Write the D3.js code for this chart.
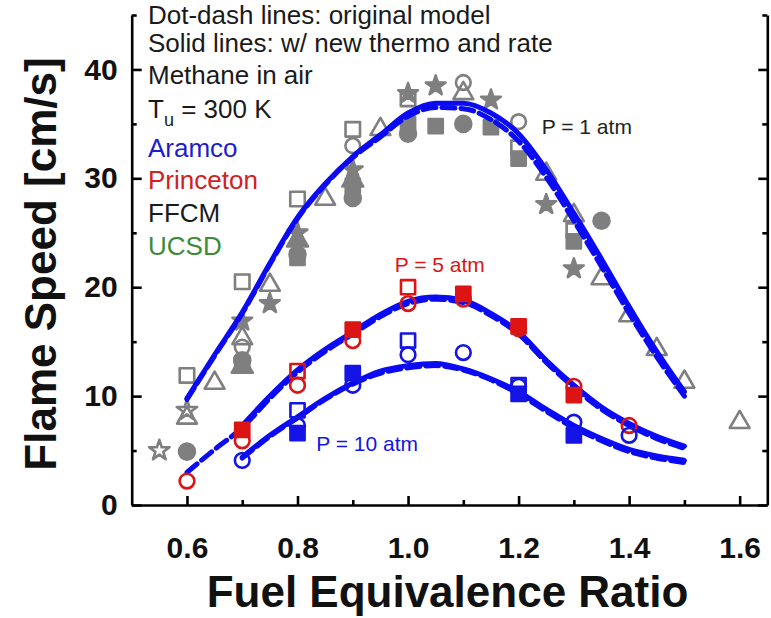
<!DOCTYPE html>
<html>
<head>
<meta charset="utf-8">
<script src="https://cdn.jsdelivr.net/npm/d3@7/dist/d3.min.js"></script>
<style>
    body { margin: 0; background: #fff; }
    svg { display: block; font-family: 'Liberation Sans', Arial, sans-serif; }
</style>
</head>
<body>
<div class="chart-container"></div>
<script>
// axis ticks
const xMajorTicks = [0.6, 0.8, 1.0, 1.2, 1.4, 1.6];
const xMinorTicks = [0.7, 0.9, 1.1, 1.3, 1.5];
const yMajorTicks = [0, 10, 20, 30, 40];
const yMinorTicks = [5, 15, 25, 35, 45];

// model curves (phi grid + flame speed, cm/s)
const phiP1 = [0.6, 0.65, 0.7, 0.75, 0.8, 0.85, 0.9, 0.95, 1.0, 1.05, 1.1, 1.15, 1.2, 1.25, 1.3, 1.35, 1.4, 1.45, 1.5];
const p1Solid = [9.8, 13.8, 17.7, 22.2, 26.4, 29.5, 32.0, 34.0, 36.0, 36.9, 36.9, 36.0, 34.1, 30.8, 26.8, 22.6, 18.2, 14.1, 10.4];
const p1Dash  = [9.7, 13.7, 17.6, 22.1, 26.3, 29.4, 31.9, 33.8, 35.7, 36.5, 36.4, 35.4, 33.4, 30.1, 26.1, 21.9, 17.6, 13.6, 10.0];

const phiP5 = [0.7, 0.75, 0.8, 0.85, 0.9, 0.95, 1.0, 1.05, 1.1, 1.15, 1.2, 1.25, 1.3, 1.35, 1.4, 1.45, 1.5];
const p5Solid = [7.3, 10.0, 12.4, 14.3, 15.9, 17.5, 18.7, 19.1, 18.8, 17.6, 15.9, 13.3, 11.0, 9.0, 7.5, 6.3, 5.4];
const phiP5Dash = [0.6, 0.65, 0.7, 0.75, 0.8, 0.85, 0.9, 0.95, 1.0, 1.05, 1.1, 1.15, 1.2, 1.25, 1.3, 1.35, 1.4, 1.45, 1.5];
const p5Dash  = [3.0, 5.1, 7.1, 9.8, 12.2, 14.1, 15.7, 17.3, 18.5, 18.9, 18.6, 17.4, 15.7, 13.1, 10.8, 8.8, 7.3, 6.1, 5.2];

const phiP10 = [0.7, 0.75, 0.8, 0.85, 0.9, 0.95, 1.0, 1.05, 1.1, 1.15, 1.2, 1.25, 1.3, 1.35, 1.4, 1.45, 1.5];
const p10Solid = [4.4, 6.4, 8.1, 9.8, 11.2, 12.3, 12.8, 13.0, 12.5, 11.6, 10.4, 8.8, 7.3, 6.1, 5.1, 4.5, 4.1];
const p10Dash  = [4.3, 6.3, 8.0, 9.7, 11.1, 12.1, 12.6, 12.8, 12.4, 11.5, 10.2, 8.6, 7.1, 5.9, 4.9, 4.3, 3.9];

// experimental data [phi, S_L]
const p1OpenSquare = [[0.6, 11.9], [0.7, 20.5], [0.8, 28.1], [0.9, 34.5], [1.0, 37.3], [1.2, 32.8], [1.3, 25.2]];
const p1OpenCircle = [[0.7, 14.5], [0.9, 33.0], [1.1, 38.8], [1.2, 35.2]];
const p1OpenTriangle = [[0.6, 8.0], [0.65, 11.2], [0.7, 15.3], [0.75, 20.2], [0.85, 28.1], [0.95, 34.5], [1.1, 37.8],
    [1.25, 30.4], [1.3, 26.6], [1.35, 20.8], [1.4, 17.4], [1.45, 14.3], [1.5, 11.3], [1.6, 7.6]];
const p1FilledStar = [[0.7, 16.9], [0.75, 18.5], [0.8, 25.0], [0.9, 30.8], [1.0, 37.8], [1.05, 38.5], [1.15, 37.2], [1.25, 27.6], [1.3, 21.7]];
const p1OpenStar = [[0.55, 5.0], [0.6, 8.7]];
const p1FilledCircle = [[0.6, 4.9], [0.7, 13.3], [0.8, 23.0], [0.9, 28.2], [1.0, 34.1], [1.1, 35.0], [1.35, 26.1]];
const p1FilledSquare = [[0.7, 13.0], [0.8, 22.7], [0.9, 29.3], [1.0, 35.0], [1.05, 34.8], [1.15, 34.7], [1.2, 31.8], [1.3, 24.2]];
const p1FilledTriangle = [[0.7, 12.7], [0.8, 24.3], [0.9, 29.8]];

const p5OpenSquare = [[0.8, 12.3], [1.0, 20.0]];
const p5OpenCircle = [[0.6, 2.2], [0.7, 5.9], [0.8, 11.0], [0.9, 15.1], [1.0, 18.5], [1.1, 18.9], [1.2, 16.2], [1.3, 10.9], [1.4, 7.3]];
const p5FilledSquare = [[0.7, 6.9], [0.9, 16.1], [1.1, 19.4], [1.2, 16.4], [1.3, 10.1]];

const p10OpenSquare = [[0.8, 8.7], [1.0, 15.1], [1.2, 11.0]];
const p10OpenCircle = [[0.7, 4.1], [0.8, 7.3], [0.9, 11.0], [1.0, 13.8], [1.1, 14.0], [1.2, 10.9], [1.3, 7.6], [1.4, 6.4]];
const p10FilledSquare = [[0.8, 6.6], [0.9, 12.1], [1.2, 10.2], [1.3, 6.4]];

// note text
const noteLines = ['Dot-dash lines: original model', 'Solid lines: w/ new thermo and rate', 'Methane in air'];
const mechNames = ['Aramco', 'Princeton', 'FFCM', 'UCSD'];
const mechColors = ['#1c1cd0', '#d42020', '#1a1a1a', '#3d8b37'];

const gray = '#7f7f7f';
const red = '#dc1414';
const blue = '#1414e6';
const lineBlue = '#0a0af5';

function ready() {
    const margin = { top: 15, right: 3.7, bottom: 113, left: 131.7 };
    const width = 771 - margin.left - margin.right;
    const height = 618 - margin.top - margin.bottom;

    const xScale = d3.scaleLinear().domain([0.5, 1.65]).range([0, width]);
    const yScale = d3.scaleLinear().domain([0, 45]).range([height, 0]);

    const svg = d3.select('.chart-container')
        .append('svg')
        .attr('width', 771)
        .attr('height', 618)
        .append('g')
        .attr('transform', `translate(${margin.left}, ${margin.top})`);

    // axes
    function styleAxis(g) {
        g.selectAll('path, line').attr('stroke', '#000').attr('stroke-width', 2.6);
        g.selectAll('text')
            .attr('font-size', 30)
            .attr('font-weight', 'bold')
            .attr('font-family', "'Liberation Sans', Arial, sans-serif")
            .attr('fill', '#111');
    }

    svg.append('g')
        .attr('transform', `translate(0, ${height})`)
        .call(d3.axisBottom(xScale).tickValues(xMajorTicks).tickFormat(d3.format('.1f'))
            .tickSizeInner(-9).tickSizeOuter(0).tickPadding(32))
        .call(styleAxis);
    svg.append('g')
        .attr('transform', `translate(0, ${height})`)
        .call(d3.axisBottom(xScale).tickValues(xMinorTicks).tickFormat('').tickSizeInner(-5).tickSizeOuter(0))
        .call(g => g.select('.domain').remove())
        .call(styleAxis);

    svg.append('g')
        .call(d3.axisLeft(yScale).tickValues(yMajorTicks).tickFormat(d3.format('d'))
            .tickSizeInner(-10).tickSizeOuter(0).tickPadding(14))
        .call(styleAxis);
    svg.append('g')
        .call(d3.axisLeft(yScale).tickValues(yMinorTicks).tickFormat('').tickSizeInner(-5).tickSizeOuter(0))
        .call(g => g.select('.domain').remove())
        .call(styleAxis);

    svg.append('g')
        .attr('transform', `translate(${width}, 0)`)
        .call(d3.axisRight(yScale).tickValues(yMajorTicks).tickFormat('').tickSizeInner(-9).tickSizeOuter(0))
        .call(styleAxis);
    svg.append('g')
        .attr('transform', `translate(${width}, 0)`)
        .call(d3.axisRight(yScale).tickValues(yMinorTicks).tickFormat('').tickSizeInner(-5).tickSizeOuter(0))
        .call(g => g.select('.domain').remove())
        .call(styleAxis);

    // axis titles
    svg.append('text')
        .attr('x', width / 2 - 2)
        .attr('y', height + 102)
        .attr('text-anchor', 'middle')
        .attr('font-size', 44)
        .attr('font-weight', 'bold')
        .attr('fill', '#111')
        .text('Fuel Equivalence Ratio');

    svg.append('text')
        .attr('transform', `translate(${56 - margin.left}, ${264 - margin.top}) rotate(-90)`)
        .attr('text-anchor', 'middle')
        .attr('font-size', 44)
        .attr('font-weight', 'bold')
        .attr('fill', '#111')
        .text('Flame Speed [cm/s]');

    // markers
    const markerSets = [
        { data: p1OpenSquare, type: d3.symbolSquare, size: 210, color: gray, filled: false },
        { data: p1OpenCircle, type: d3.symbolCircle, size: 170, color: gray, filled: false },
        { data: p1OpenTriangle, type: d3.symbolTriangle, size: 170, color: gray, filled: false },
        { data: p1OpenStar, type: d3.symbolStar, size: 130, color: gray, filled: false },
        { data: p1FilledCircle, type: d3.symbolCircle, size: 200, color: gray, filled: true },
        { data: p1FilledSquare, type: d3.symbolSquare, size: 200, color: gray, filled: true },
        { data: p1FilledTriangle, type: d3.symbolTriangle, size: 190, color: gray, filled: true },
        { data: p1FilledStar, type: d3.symbolStar, size: 120, color: gray, filled: true }
    ];
    const topMarkerSets = [
        { data: p5FilledSquare, type: d3.symbolSquare, size: 200, color: red, filled: true },
        { data: p5OpenSquare, type: d3.symbolSquare, size: 200, color: red, filled: false },
        { data: p5OpenCircle, type: d3.symbolCircle, size: 170, color: red, filled: false },
        { data: p10FilledSquare, type: d3.symbolSquare, size: 200, color: blue, filled: true },
        { data: p10OpenSquare, type: d3.symbolSquare, size: 200, color: blue, filled: false },
        { data: p10OpenCircle, type: d3.symbolCircle, size: 170, color: blue, filled: false }
    ];

    function drawMarkers(sets) {
        sets.forEach(s => {
            svg.append('g')
                .selectAll('path')
                .data(s.data)
                .enter()
                .append('path')
                .attr('d', d3.symbol().type(s.type).size(s.size))
                .attr('transform', d => `translate(${xScale(d[0])}, ${yScale(d[1])})`)
                .attr('fill', s.filled ? s.color : 'none')
                .attr('stroke', s.color)
                .attr('stroke-width', 2.6)
                .attr('stroke-linejoin', 'round');
        });
    }

    drawMarkers(markerSets);

    // model lines
    const line = d3.line()
        .x(d => xScale(d[0]))
        .y(d => yScale(d[1]))
        .curve(d3.curveMonotoneX);

    const curves = [
        { phi: phiP1, s: p1Dash, dash: '13,6' },
        { phi: phiP5Dash, s: p5Dash, dash: '13,6' },
        { phi: phiP10, s: p10Dash, dash: '13,6' },
        { phi: phiP1, s: p1Solid, dash: null },
        { phi: phiP5, s: p5Solid, dash: null },
        { phi: phiP10, s: p10Solid, dash: null }
    ];

    svg.append('g')
        .selectAll('path')
        .data(curves)
        .enter()
        .append('path')
        .attr('d', d => line(d3.zip(d.phi, d.s)))
        .attr('fill', 'none')
        .attr('stroke', lineBlue)
        .attr('stroke-width', 5)
        .attr('stroke-linecap', 'round')
        .attr('stroke-dasharray', d => d.dash);

    drawMarkers(topMarkerSets);

    // pressure labels
    svg.append('text')
        .attr('x', xScale(1.242)).attr('y', yScale(34.1))
        .attr('font-size', 21).attr('fill', '#222')
        .text('P = 1 atm');
    svg.append('text')
        .attr('x', xScale(0.976)).attr('y', yScale(21.4))
        .attr('font-size', 21).attr('fill', red)
        .text('P = 5 atm');
    svg.append('text')
        .attr('x', xScale(0.834)).attr('y', yScale(5.0))
        .attr('font-size', 21).attr('fill', blue)
        .text('P = 10 atm');

    // notes in upper left
    const notes = svg.append('g')
        .attr('transform', `translate(${148 - margin.left}, ${-margin.top})`)
        .attr('font-size', 26);

    notes.selectAll('.note')
        .data(noteLines)
        .enter()
        .append('text')
        .attr('class', 'note')
        .attr('y', (d, i) => [24, 52, 84][i])
        .attr('fill', '#1a1a1a')
        .text(d => d);

    const tu = notes.append('text').attr('y', 117.5).attr('fill', '#1a1a1a');
    tu.append('tspan').text('T');
    tu.append('tspan').text('u').attr('font-size', 18).attr('dy', 8);
    tu.append('tspan').text(' = 300 K').attr('dy', -8);

    notes.selectAll('.mech')
        .data(mechNames)
        .enter()
        .append('text')
        .attr('class', 'mech')
        .attr('y', (d, i) => 156.5 + i * 32.7)
        .attr('fill', (d, i) => mechColors[i])
        .text(d => d);
}

ready();
</script>
</body>
</html>
